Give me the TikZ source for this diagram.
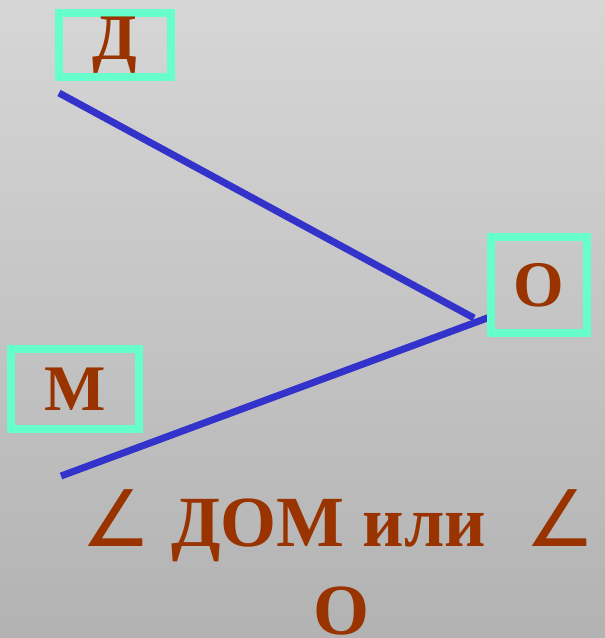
\documentclass[tikz,border=0pt]{standalone}
\usepackage{fontspec}
\setmainfont{Liberation Serif}
\newfontfamily\anglefont{DejaVu Sans}
\newcommand{\angsym}{{\anglefont\mdseries\fontsize{78}{78}\selectfont ∠}}
\definecolor{boxgreen}{HTML}{66FFCC}
\definecolor{letterbrown}{HTML}{993300}
\definecolor{rayblue}{HTML}{3333CC}
\tikzset{
  letterbox/.style={draw=boxgreen, line width=8pt, inner sep=0pt,
    text=letterbrown, font=\bfseries\fontsize{65}{65}\selectfont},
  ray/.style={rayblue, line width=7pt},
  caption/.style={text=letterbrown, inner sep=0pt, font=\bfseries\fontsize{72}{72}\selectfont}
}
\begin{document}
\begin{tikzpicture}[x=1pt, y=-1pt]
  % Background
  \shade[top color=black!16, bottom color=black!30] (0,0) rectangle (605,638);
  \clip (0,0) rectangle (605,638);
  \useasboundingbox (0,0) rectangle (605,638);

  % Rays
  \coordinate (dEnd) at (59,93);
  \coordinate (mEnd) at (61,476);
  \coordinate (oTip1) at (474,318);
  \coordinate (oTip2) at (490,317);
  \draw[ray] (dEnd) -- (oTip1);
  \draw[ray] (mEnd) -- (oTip2);

  % Letters in boxes
  \node[letterbox, minimum width=112pt, minimum height=64pt] (d) at (115,45) {Д};
  \node[letterbox, minimum width=96pt, minimum height=96pt] (o) at (539,285) {О};
  \node[letterbox, minimum width=128pt, minimum height=80pt] (m) at (75,389) {М};

  % Caption
  \node[caption, anchor=base west] (line1) at (81,546)
    {\makebox[90pt][l]{\angsym}ДОМ или\hspace{39pt}\angsym};
  \node[caption, anchor=base] (line2) at (341,634) {О};
\end{tikzpicture}
\end{document}
